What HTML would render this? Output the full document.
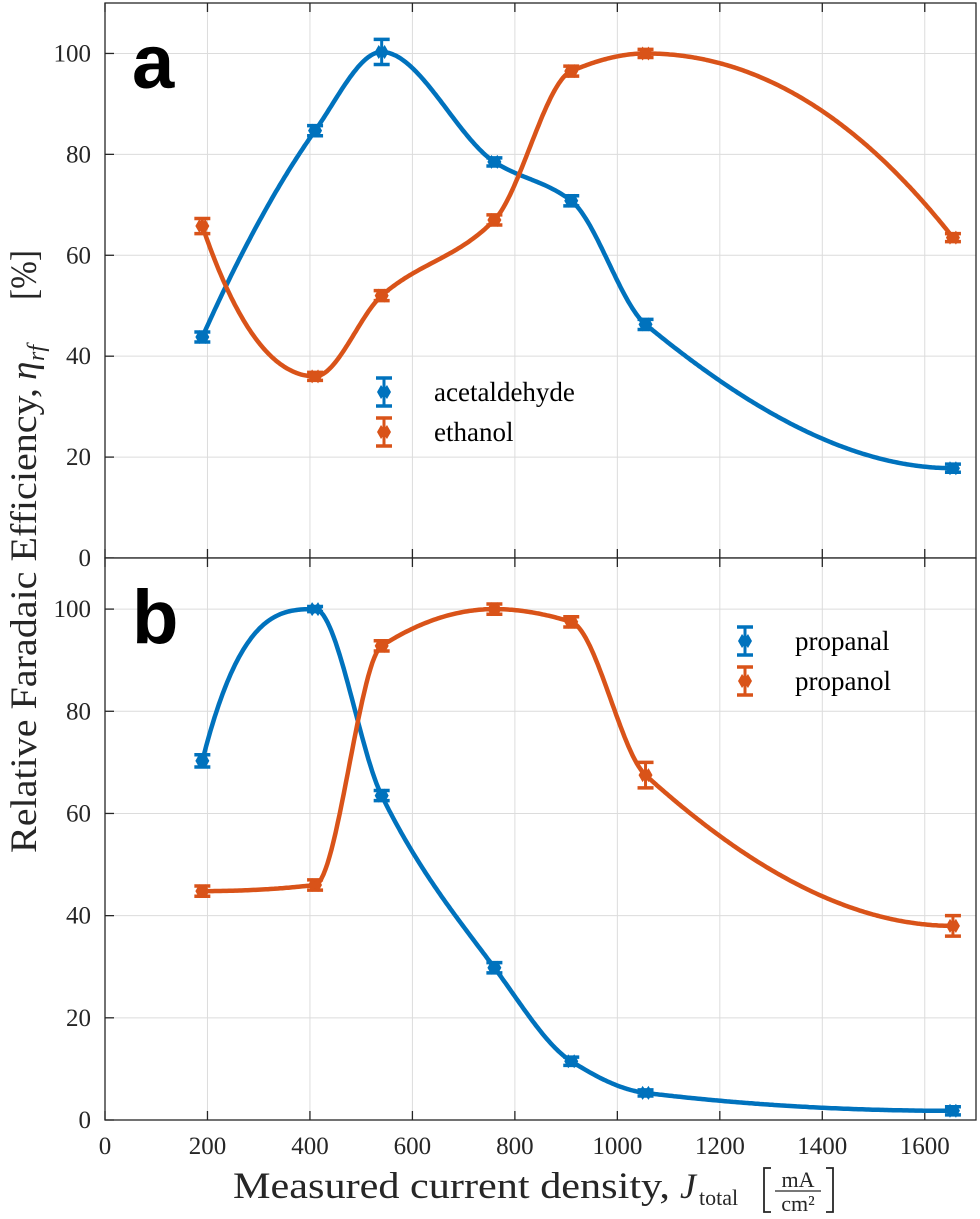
<!DOCTYPE html>
<html><head><meta charset="utf-8"><style>
html,body{margin:0;padding:0;background:#fff}
svg text{font-family:"Liberation Serif",serif;fill:#262626}
</style></head><body>
<svg id="chart" width="980" height="1214" viewBox="0 0 980 1214" xmlns="http://www.w3.org/2000/svg">
<g id="root"></g>
</svg>
<script>
const xValues=[190,410,540,760,910,1055,1655];
const acetaldehyde=[43.8,84.7,100.3,78.5,70.8,46.3,17.8];
const acetaldehydeErr=[1,1,2.5,0.8,1,1,0.8];
const ethanol=[65.8,36,52,67,96.5,100,63.5];
const ethanolErr=[1.5,0.8,1,1,1,0.8,0.8];
const propanal=[70.3,100,63.5,29.8,11.5,5.3,1.8];
const propanalErr=[1.2,0.5,1,1,0.8,0.6,0.8];
const propanol=[44.8,46,92.8,100,97.5,67.5,38];
const propanolErr=[1,1,1,1,1,2.5,2];
const xTicks=[0,200,400,600,800,1000,1200,1400,1600];
const yTicks=[0,20,40,60,80,100];
const NS='http://www.w3.org/2000/svg';
const root=document.getElementById('root');
const X0=105,X1=976;
function sx(v){return X0+v*(X1-X0)/1700;}
function mk(tag,attrs,parent){const e=document.createElementNS(NS,tag);for(const k in attrs)e.setAttribute(k,attrs[k]);(parent||root).appendChild(e);return e;}
function pchip(xs,ys){const n=xs.length,h=[],del=[],m=new Array(n);
for(let i=0;i<n-1;i++){h.push(xs[i+1]-xs[i]);del.push((ys[i+1]-ys[i])/h[i]);}
for(let i=1;i<n-1;i++){if(del[i-1]*del[i]<=0)m[i]=0;else{const w1=2*h[i]+h[i-1],w2=h[i]+2*h[i-1];m[i]=(w1+w2)/(w1/del[i-1]+w2/del[i]);}}
function endS(h0,h1,d0,d1){let d=((2*h0+h1)*d0-h0*d1)/(h0+h1);if(Math.sign(d)!==Math.sign(d0))d=0;else if(Math.sign(d0)!==Math.sign(d1)&&Math.abs(d)>Math.abs(3*d0))d=3*d0;return d;}
m[0]=endS(h[0],h[1],del[0],del[1]);m[n-1]=endS(h[n-2],h[n-3],del[n-2],del[n-3]);
return t=>{let j=0;while(j<n-2&&t>xs[j+1])j++;const s=(t-xs[j])/h[j],s2=s*s,s3=s2*s;
return (2*s3-3*s2+1)*ys[j]+(s3-2*s2+s)*h[j]*m[j]+(-2*s3+3*s2)*ys[j+1]+(s3-s2)*h[j]*m[j+1];};}
function marker(g,x,y,col){
 mk('path',{d:`M${x-7} ${y}L${x-3} ${y-7}L${x} ${y-3}L${x+3} ${y-7}L${x+7} ${y}L${x+3} ${y+7}L${x} ${y+3}L${x-3} ${y+7}Z`,fill:col},g);
}
function panel(name,top,bottom,series,label,legendPos){
 const g=mk('g',{});
 
 
 const sy=v=>bottom-v*(bottom-top)/110;
 mk('rect',{x:X0,y:top,width:X1-X0,height:bottom-top,fill:'#fff'},g);
 for(const t of xTicks){if(t===0)continue;const gl=mk('line',{x1:sx(t),x2:sx(t),y1:top,y2:bottom,stroke:'#dcdcdc','stroke-width':1},g);}
 for(const t of yTicks){if(t===0)continue;const gl=mk('line',{x1:X0,x2:X1,y1:sy(t),y2:sy(t),stroke:'#dcdcdc','stroke-width':1},g);}
 for(const t of xTicks){mk('line',{x1:sx(t),x2:sx(t),y1:bottom,y2:bottom-9,stroke:'#262626','stroke-width':1.3},g);mk('line',{x1:sx(t),x2:sx(t),y1:top,y2:top+9,stroke:'#262626','stroke-width':1.3},g);}
 for(const t of yTicks){mk('line',{x1:X0,x2:X0+9,y1:sy(t),y2:sy(t),stroke:'#262626','stroke-width':1.3},g);
  const tl=mk('text',{x:X0-14,y:sy(t)+8,'text-anchor':'end','font-size':25},g);tl.textContent=t;}
 for(const s of series){
  const f=pchip(xValues,s.vals);let d='';
  for(let t=xValues[0];t<=xValues[xValues.length-1];t+=4)d+=(d?'L':'M')+sx(t).toFixed(1)+' '+sy(f(t)).toFixed(1);
  const p=mk('path',{d,fill:'none',stroke:s.col,'stroke-width':4.5,'stroke-linejoin':'round'},g);
  
  xValues.forEach((xv,i)=>{const eg=mk('g',{},g);
   
   const x=sx(xv),y1=sy(s.vals[i]+s.err[i]),y2=sy(s.vals[i]-s.err[i]);
   mk('line',{x1:x,x2:x,y1:y1,y2:y2,stroke:s.col,'stroke-width':3},eg);
   mk('line',{x1:x-8,x2:x+8,y1:y1,y2:y1,stroke:s.col,'stroke-width':3.5},eg);
   mk('line',{x1:x-8,x2:x+8,y1:y2,y2:y2,stroke:s.col,'stroke-width':3.5},eg);
   marker(eg,x,sy(s.vals[i]),s.col);});
 }
 mk('rect',{x:X0,y:top,width:X1-X0,height:bottom-top,fill:'none',stroke:'#262626','stroke-width':1.3},g);
 const pl=mk('text',{x:132,y:top+85,'font-size':76,'font-weight':'bold',style:'font-family:"Liberation Sans",sans-serif;fill:#000'},g);
 pl.textContent=label;
 series.forEach((s,i)=>{const lg=mk('g',{},g);
  
  const lx=legendPos[0],ly=legendPos[1]+i*40;
  mk('line',{x1:lx,x2:lx,y1:ly-14,y2:ly+14,stroke:s.col,'stroke-width':3},lg);
  mk('line',{x1:lx-8,x2:lx+8,y1:ly-14,y2:ly-14,stroke:s.col,'stroke-width':3.5},lg);
  mk('line',{x1:lx-8,x2:lx+8,y1:ly+14,y2:ly+14,stroke:s.col,'stroke-width':3.5},lg);
  marker(lg,lx,ly,s.col);
  const t=mk('text',{x:lx+50,y:ly+9,'font-size':27,style:'fill:#000'},lg);t.textContent=s.name;});
 return g;
}
panel('panel-a',3,558,[{name:'acetaldehyde',vals:acetaldehyde,err:acetaldehydeErr,col:'#0072BD'},{name:'ethanol',vals:ethanol,err:ethanolErr,col:'#D95319'}],'a',[384,392]);
panel('panel-b',558,1120,[{name:'propanal',vals:propanal,err:propanalErr,col:'#0072BD'},{name:'propanol',vals:propanol,err:propanolErr,col:'#D95319'}],'b',[745,641]);
for(const t of xTicks){const tl=mk('text',{x:sx(t),y:1154,'text-anchor':'middle','font-size':25});tl.textContent=t;
 }
const xt=mk('g',{});


const t1=mk('text',{x:233,y:1198,'font-size':37,textLength:437,lengthAdjust:'spacingAndGlyphs'},xt);t1.textContent='Measured current density,';
const t2=mk('text',{x:680,y:1198,'font-size':36,'font-style':'italic'},xt);t2.textContent='J';
const t3=mk('text',{x:699,y:1205,'font-size':22},xt);t3.textContent='total';
mk('path',{d:'M771 1168 L764 1168 L764 1212 L771 1212 M826 1168 L833 1168 L833 1212 L826 1212',fill:'none',stroke:'#262626','stroke-width':1.8},xt);
const t4=mk('text',{x:798,y:1187,'font-size':22,'text-anchor':'middle'},xt);t4.textContent='mA';
mk('line',{x1:775,x2:821,y1:1191,y2:1191,stroke:'#262626','stroke-width':1.3},xt);
const t5=mk('text',{x:798,y:1211,'font-size':22,'text-anchor':'middle'},xt);t5.textContent='cm²';
const yt=mk('g',{transform:'translate(36,0) rotate(-90)'});


const y1=mk('text',{x:-853,y:0,'font-size':37,textLength:465,lengthAdjust:'spacingAndGlyphs'},yt);y1.textContent='Relative Faradaic Efficiency,';
const y2=mk('text',{x:-380,y:0,'font-size':37,'font-style':'italic'},yt);y2.textContent='η';
const y3=mk('text',{x:-361,y:8,'font-size':24,'font-style':'italic'},yt);y3.textContent='rf';
const y4=mk('text',{x:-300,y:0,'font-size':37,textLength:50,lengthAdjust:'spacingAndGlyphs'},yt);y4.textContent='[%]';
</script>
</body></html>
